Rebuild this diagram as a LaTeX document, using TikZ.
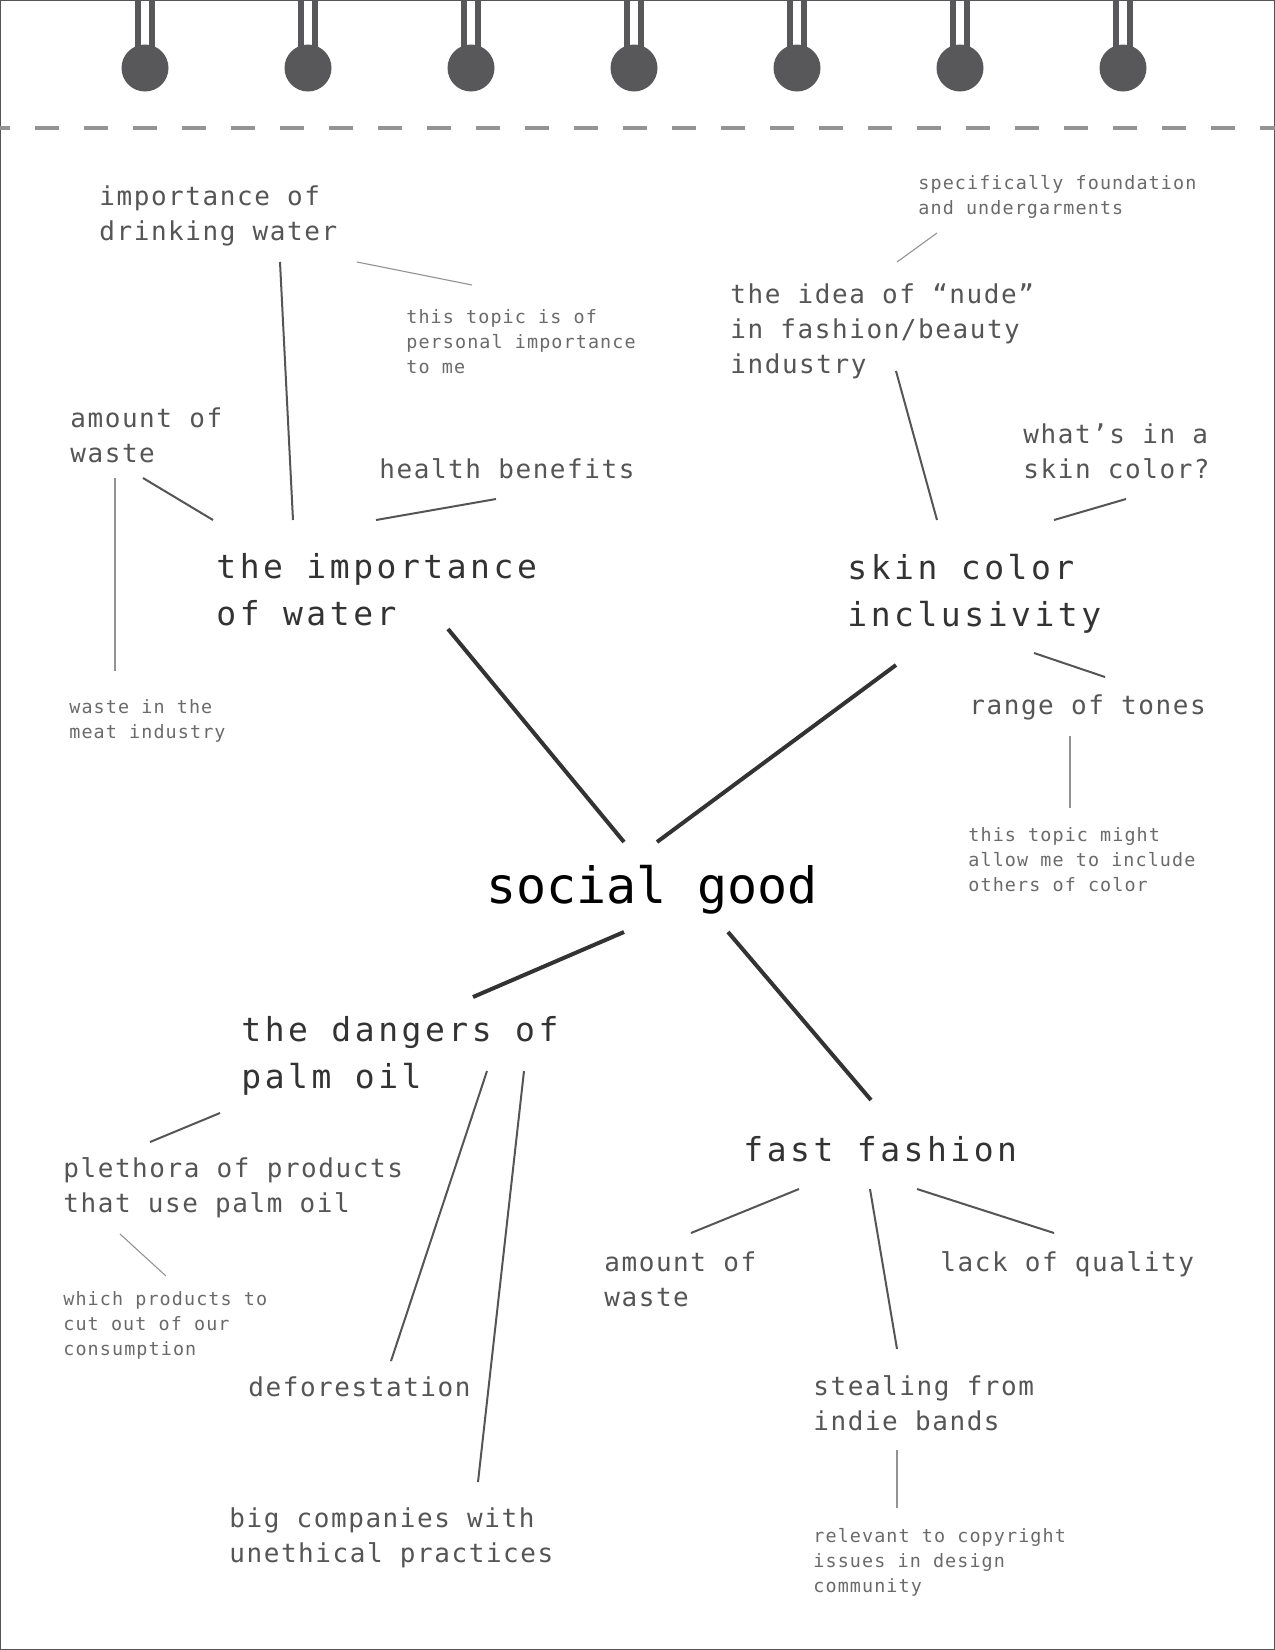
\documentclass[tikz,border=0pt]{standalone}
\usepackage{fontspec}
\newfontfamily\hubfont{DejaVu Sans Mono}
\newfontfamily\topicfont{DejaVu Sans Mono}[LetterSpace=10.7]
\newfontfamily\ideafont{DejaVu Sans Mono}[LetterSpace=6]
\definecolor{ring}{HTML}{58585A}
\definecolor{perf}{HTML}{949494}
\definecolor{ink}{HTML}{333333}
\definecolor{inkmid}{HTML}{555555}
\definecolor{inklight}{HTML}{6A6A6A}
\begin{document}
\begin{tikzpicture}[x=0.5pt, y=-0.5pt,
  lbl/.style={anchor=base west, inner sep=0pt, align=left},
  hub/.style={lbl, font=\hubfont\fontsize{25}{30}\selectfont, text=black},
  topic/.style={lbl, font=\topicfont\fontsize{16.5}{23.5}\selectfont, text=ink},
  idea/.style={lbl, font=\ideafont\fontsize{13}{17.5}\selectfont, text=inkmid},
  note/.style={lbl, font=\ideafont\fontsize{9.2}{12.5}\selectfont, text=inklight},
  spoke/.style={line width=2pt, draw=ink},
  arm/.style={line width=1pt, draw=inkmid},
  twig/.style={line width=0.55pt, draw=gray!85}
]
  \useasboundingbox (0,0) rectangle (1275,1650);
  \draw[inkmid, line width=0.6pt] (0.6,0.6) rectangle (1274.4,1649.4);

  % binding
  \foreach \x in {145,308,471,634,797,960,1123} {
    \fill[ring] (\x-9.7,0) rectangle (\x-3.9,50);
    \fill[ring] (\x+3.9,0) rectangle (\x+9.7,50);
    \fill[ring] (\x,68) circle[radius=23.5];
  }
  \draw[perf, line width=2pt, dash pattern=on 12pt off 12.5pt, dash phase=7.1pt]
    (0,127.7) -- (1275,127.7);

  % nodes sit on the baseline of their last line
  \node[hub]   (hub)     at (486,903)  {social good};

  \node[topic] (water)   at (216,625)  {the importance\\of water};
  \node[topic] (skin)    at (847,626)  {skin color\\inclusivity};
  \node[topic] (palm)    at (241,1088) {the dangers of\\palm oil};
  \node[topic] (fashion) at (743,1161) {fast fashion};

  \node[idea]  (drink)   at (99,240)   {importance of\\drinking water};
  \node[idea]  (wwaste)  at (70,462)   {amount of\\waste};
  \node[idea]  (health)  at (379,478)  {health benefits};
  \node[idea]  (nude)    at (730,373)  {the idea of “nude”\\in fashion/beauty\\industry};
  \node[idea]  (whats)   at (1023,478) {what’s in a\\skin color?};
  \node[idea]  (tones)   at (969,714)  {range of tones};
  \node[idea]  (plethora) at (63,1212) {plethora of products\\that use palm oil};
  \node[idea]  (forest)  at (248,1396) {deforestation};
  \node[idea]  (bigco)   at (229,1562) {big companies with\\unethical practices};
  \node[idea]  (fwaste)  at (604,1306) {amount of\\waste};
  \node[idea]  (quality) at (940,1271) {lack of quality};
  \node[idea]  (indie)   at (813,1430) {stealing from\\indie bands};

  \node[note]  (personal) at (406,373) {this topic is of\\personal importance\\to me};
  \node[note]  (meat)    at (69,738)   {waste in the\\meat industry};
  \node[note]  (garments) at (918,214) {specifically foundation\\and undergarments};
  \node[note]  (others)  at (968,891)  {this topic might\\allow me to include\\others of color};
  \node[note]  (consume) at (63,1355)  {which products to\\cut out of our\\consumption};
  \node[note]  (copy)    at (813,1592) {relevant to copyright\\issues in design\\community};

  % line ends
  \coordinate (hub-nw) at (624,842);  \coordinate (hub-ne) at (657,842);
  \coordinate (hub-sw) at (624,932);  \coordinate (hub-se) at (728,932);
  \coordinate (water-s) at (448,629); \coordinate (skin-s) at (896,665);
  \coordinate (palm-n) at (473,997);  \coordinate (fashion-n) at (871,1100);

  \coordinate (water-a) at (213,520); \coordinate (wwaste-s) at (143,478);
  \coordinate (water-b) at (293,520); \coordinate (drink-s) at (280,262);
  \coordinate (water-c) at (376,520); \coordinate (health-s) at (496,499);
  \coordinate (skin-a) at (937,520);  \coordinate (nude-s) at (896,371);
  \coordinate (skin-b) at (1054,520); \coordinate (whats-s) at (1126,499);
  \coordinate (skin-c) at (1034,653); \coordinate (tones-n) at (1105,677);
  \coordinate (palm-a) at (220,1113); \coordinate (plethora-n) at (150,1142);
  \coordinate (palm-b) at (487,1071); \coordinate (forest-n) at (391,1361);
  \coordinate (palm-c) at (524,1071); \coordinate (bigco-n) at (478,1482);
  \coordinate (fashion-a) at (799,1189); \coordinate (fwaste-n) at (691,1233);
  \coordinate (fashion-b) at (870,1189); \coordinate (indie-n) at (897,1349);
  \coordinate (fashion-c) at (917,1189); \coordinate (quality-n) at (1054,1233);

  \coordinate (drink-e) at (357,262);  \coordinate (personal-n) at (472,285);
  \coordinate (wwaste-d) at (115,478); \coordinate (meat-n) at (115,671);
  \coordinate (nude-n) at (897,262);   \coordinate (garments-s) at (937,233);
  \coordinate (tones-s) at (1070,736); \coordinate (others-n) at (1070,808);
  \coordinate (plethora-s) at (120,1234); \coordinate (consume-n) at (166,1276);
  \coordinate (indie-s) at (897,1450); \coordinate (copy-n) at (897,1508);

  \draw[spoke] (hub-nw)--(water-s); \draw[spoke] (hub-ne)--(skin-s);
  \draw[spoke] (hub-sw)--(palm-n);  \draw[spoke] (hub-se)--(fashion-n);

  \draw[arm] (water-a)--(wwaste-s); \draw[arm] (water-b)--(drink-s);
  \draw[arm] (water-c)--(health-s);
  \draw[arm] (skin-a)--(nude-s); \draw[arm] (skin-b)--(whats-s);
  \draw[arm] (skin-c)--(tones-n);
  \draw[arm] (palm-a)--(plethora-n); \draw[arm] (palm-b)--(forest-n);
  \draw[arm] (palm-c)--(bigco-n);
  \draw[arm] (fashion-a)--(fwaste-n); \draw[arm] (fashion-b)--(indie-n);
  \draw[arm] (fashion-c)--(quality-n);

  \draw[twig] (drink-e)--(personal-n); \draw[twig] (wwaste-d)--(meat-n);
  \draw[twig] (nude-n)--(garments-s);  \draw[twig] (tones-s)--(others-n);
  \draw[twig] (plethora-s)--(consume-n); \draw[twig] (indie-s)--(copy-n);
\end{tikzpicture}
\end{document}
